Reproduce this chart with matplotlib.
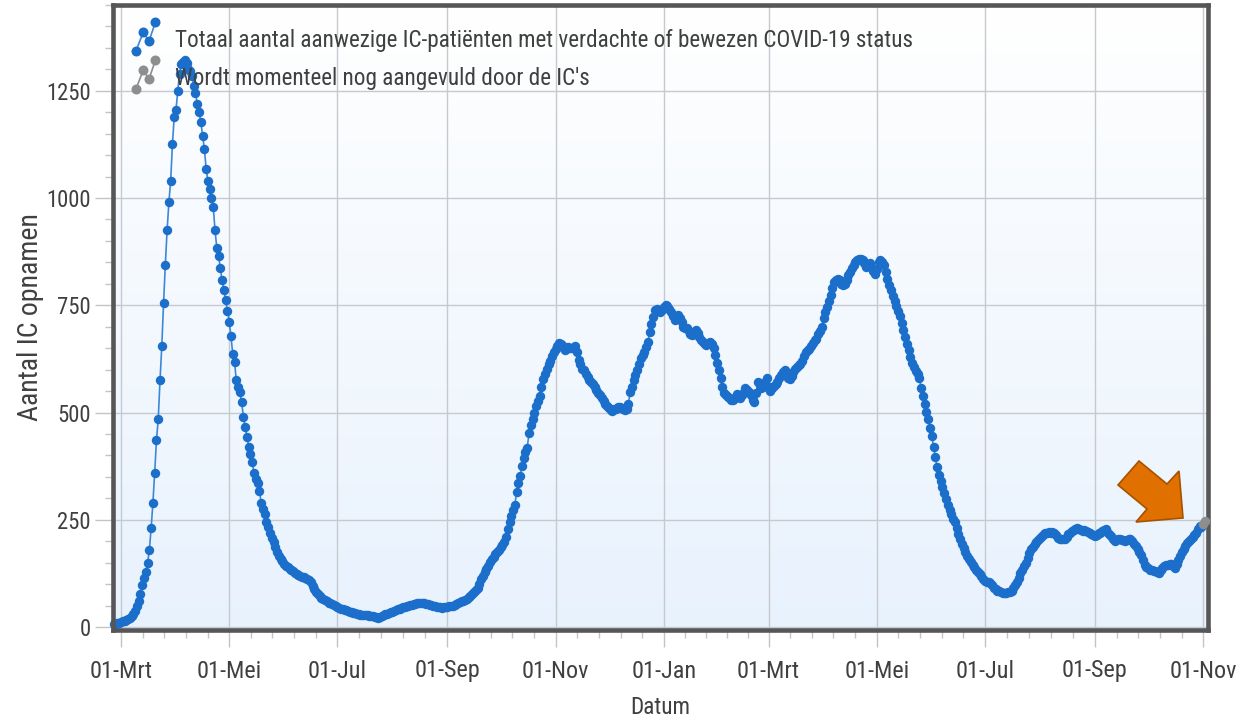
import os
import dataclasses
import numpy as np
import pandas as pd
import matplotlib
matplotlib.use("Agg")
import matplotlib.pyplot as plt
import matplotlib.dates as mdates
from matplotlib import font_manager
from matplotlib.ticker import MultipleLocator, FixedLocator, FuncFormatter
from matplotlib.legend_handler import HandlerBase
from matplotlib.lines import Line2D
from matplotlib.patches import Polygon
from matplotlib.colors import LinearSegmentedColormap

# ---------------- data (daily IC occupancy) ----------------
start_date = "2020-02-26"
feb_2020 = [6, 8, 9, 10]
mar_2020 = [11, 13, 14, 16, 19, 22, 26, 31, 38, 48, 60, 78, 98, 115, 128, 150, 180, 230, 290, 360,
            435, 485, 575, 655, 755, 845, 925, 990, 1040, 1125, 1190]
apr_2020 = [1205, 1250, 1290, 1312, 1318, 1322, 1315, 1300, 1297, 1285, 1262, 1245, 1220, 1200, 1178,
            1145, 1115, 1068, 1040, 1020, 1000, 980, 925, 884, 866, 836, 808, 785, 762, 736]
may_2020 = [712, 678, 636, 618, 575, 560, 547, 524, 490, 466, 444, 420, 403, 385, 358, 345, 336, 318,
            290, 275, 264, 245, 232, 220, 208, 197, 186, 175, 166, 158, 154]
jun_2020 = [148, 143, 140, 136, 132, 130, 126, 124, 121, 120, 117, 116, 114, 112, 110, 104, 96, 88, 81,
            76, 72, 68, 65, 62, 60, 57, 55, 53, 51, 49]
jul_2020 = [46, 45, 43, 42, 40, 39, 37, 36, 34, 33, 32, 31, 30, 29, 28, 28, 27, 27, 26, 26, 25, 24, 23,
            22, 24, 26, 28, 30, 31, 33, 34]
aug_2020 = [36, 38, 40, 41, 43, 44, 46, 47, 48, 50, 51, 52, 53, 54, 55, 56, 56, 56, 55, 54, 53, 52, 51,
            49, 48, 47, 46, 46, 45, 46, 46]
sep_2020 = [47, 48, 49, 50, 52, 54, 56, 58, 60, 61, 63, 66, 70, 73, 77, 82, 86, 90, 100, 112, 120, 128,
            136, 143, 151, 158, 164, 170, 175, 180]
oct_2020 = [186, 192, 197, 210, 228, 245, 259, 272, 285, 314, 335, 352, 375, 395, 408, 418, 453, 470,
            484, 500, 515, 527, 539, 560, 578, 590, 601, 612, 620, 632, 640]
nov_2020 = [648, 655, 662, 660, 656, 645, 648, 652, 650, 651, 650, 655, 640, 622, 612, 602, 598, 590,
            582, 575, 570, 566, 560, 552, 546, 540, 533, 526, 520, 515]
dec_2020 = [510, 505, 503, 508, 509, 512, 513, 510, 508, 506, 509, 520, 548, 560, 575, 587, 600, 614,
            626, 635, 641, 652, 665, 688, 707, 722, 738, 742, 738, 735, 740]
jan_2021 = [745, 750, 748, 742, 734, 725, 715, 720, 727, 720, 710, 700, 698, 696, 690, 684, 680, 686,
            692, 685, 675, 668, 664, 660, 657, 662, 665, 660, 650, 634, 615]
feb_2021 = [600, 580, 560, 545, 540, 537, 533, 530, 529, 535, 544, 538, 533, 540, 548, 556, 552, 548,
            540, 530, 525, 545, 571, 565, 556, 560, 570, 580]
mar_2021 = [560, 550, 556, 562, 566, 570, 580, 588, 594, 600, 590, 580, 578, 585, 595, 602, 605, 610,
            613, 620, 632, 641, 645, 648, 655, 662, 668, 672, 682, 690, 699]
apr_2021 = [720, 735, 746, 760, 773, 790, 805, 810, 812, 808, 800, 797, 800, 810, 820, 828, 836, 844,
            850, 855, 858, 859, 855, 848, 840, 845, 848, 840, 830, 824]
may_2021 = [835, 850, 855, 850, 844, 828, 812, 798, 785, 772, 760, 748, 736, 724, 708, 692, 676, 660,
            645, 630, 616, 605, 597, 590, 580, 558, 538, 520, 502, 484, 465]
jun_2021 = [445, 420, 396, 372, 354, 340, 327, 312, 298, 285, 272, 263, 252, 245, 231, 217, 206, 193,
            184, 175, 165, 158, 152, 145, 140, 134, 128, 124, 118, 112]
jul_2021 = [108, 106, 104, 102, 98, 92, 88, 85, 83, 81, 80, 79, 80, 81, 82, 84, 90, 98, 105, 115, 126,
            134, 142, 150, 162, 172, 181, 187, 193, 197, 203]
aug_2021 = [208, 212, 216, 218, 220, 221, 220, 221, 220, 215, 208, 205, 204, 205, 206, 210, 216, 220,
            224, 227, 229, 230, 228, 226, 224, 225, 223, 221, 220, 217, 214]
sep_2021 = [212, 215, 218, 220, 224, 227, 228, 222, 216, 212, 206, 201, 202, 204, 205, 203, 202, 201,
            203, 205, 205, 200, 194, 189, 182, 175, 169, 156, 145, 140]
oct_2021 = [137, 134, 132, 131, 130, 128, 126, 132, 138, 142, 144, 145, 146, 146, 142, 138, 148, 157,
            165, 174, 182, 189, 195, 200, 205, 210, 215, 220, 228, 236, 232]

pending_dates = ["2021-11-01", "2021-11-02"]
pending_values = [240, 246]

ic_values = (feb_2020 + mar_2020 + apr_2020 + may_2020 + jun_2020 + jul_2020 + aug_2020 + sep_2020 +
             oct_2020 + nov_2020 + dec_2020 + jan_2021 + feb_2021 + mar_2021 + apr_2021 + may_2021 +
             jun_2021 + jul_2021 + aug_2021 + sep_2021 + oct_2021)
ic_dates = pd.date_range(start_date, periods=len(ic_values), freq="D")
pend_dates = pd.to_datetime(pending_dates)

month_abbr = ["Jan", "Feb", "Mrt", "Apr", "Mei", "Jun", "Jul", "Aug", "Sep", "Okt", "Nov", "Dec"]
y_ticks = [0, 250, 500, 750, 1000, 1250]

legend_labels = ["Totaal aantal aanwezige IC-patiënten met verdachte of bewezen COVID-19 status",
                 "Wordt momenteel nog aangevuld door de IC's"]


# ---------------- fonts: look for an installed condensed sans ----------------
def _is_regular(fe):
    w = fe.weight
    if isinstance(w, str):
        return w.lower() in ("normal", "regular", "book", "400")
    return 380 <= w <= 420


def pick_condensed():
    prefs = ["Roboto Condensed", "Noto Sans", "Open Sans", "Liberation Sans Narrow", "DejaVu Sans"]
    best, best_rank = None, None
    for fe in font_manager.fontManager.ttflist:
        base = os.path.basename(fe.fname).lower()
        cond = ("condensed" in base or "narrow" in base or fe.stretch == "condensed"
                or "Condensed" in fe.name or "Narrow" in fe.name)
        if not cond or "semi" in base or "extra" in base or "ultra" in base:
            continue
        if fe.style != "normal" or not _is_regular(fe):
            continue
        if any(k in base for k in ("bold", "light", "thin", "black", "italic", "medium")):
            continue
        root = fe.name.replace(" Condensed", "").replace(" Narrow", "")
        rank = None
        for i, p in enumerate(prefs):
            if fe.name == p or root == p.replace(" Condensed", "").replace(" Narrow", ""):
                rank = i
                break
        if rank is None:
            rank = len(prefs)
        if best is None or rank < best_rank:
            best, best_rank = fe, rank
    return best


cond_entry = pick_condensed()
if cond_entry is not None:
    font_manager.fontManager.ttflist.append(
        dataclasses.replace(cond_entry, name="ChartCondensed", stretch="normal"))
    MAIN_FONT = "ChartCondensed"
else:
    names = {f.name for f in font_manager.fontManager.ttflist}
    MAIN_FONT = "Liberation Sans" if "Liberation Sans" in names else "DejaVu Sans"
plt.rcParams["font.family"] = [MAIN_FONT, "DejaVu Sans"]

BLUE = "#1b6fcb"
LINE_BLUE = "#3b88da"
GREY = "#8e8e8e"
TEXT = "#404040"

W, H = 1255, 718
fig = plt.figure(figsize=(W / 100, H / 100), dpi=100)
fig.patch.set_facecolor("white")
fig.canvas.draw()
R = fig.canvas.get_renderer()


def fit_size(text, target_px):
    t = fig.text(0, 0, text, fontsize=20)
    w = t.get_window_extent(R).width
    t.remove()
    return 20.0 * target_px / w


fs_legend = fit_size(legend_labels[0], 738)
fs_xtick = fit_size("01-Mei", 65)
fs_ytick = fit_size("1000", 45)
fs_xlabel = fit_size("Datum", 60)
fs_ylabel = fit_size("Aantal IC opnamen", 208)

left, right, bottom, top = 113 / W, 1208 / W, 1 - 630 / H, 1 - 5 / H
AX_W, AX_H = (right - left) * W, (top - bottom) * H

# gradient background axes
bg = fig.add_axes([left, bottom, right - left, top - bottom], zorder=0)
cmap = LinearSegmentedColormap.from_list("bgfade", ["#e8f2fd", "#ffffff"])
bg.imshow(np.linspace(0, 1, 256).reshape(-1, 1), cmap=cmap, aspect="auto",
          extent=[0, 1, 0, 1], origin="lower")
bg.set_axis_off()

ax = fig.add_axes([left, bottom, right - left, top - bottom], zorder=1)
ax.set_facecolor("none")

MS = 6.8
ax.plot(ic_dates, ic_values, color=LINE_BLUE, lw=1.2, marker="o", ms=MS,
        mfc=BLUE, mec=BLUE, mew=0, zorder=3, clip_on=False)
ax.plot([ic_dates[-1]] + list(pend_dates), [ic_values[-1]] + pending_values,
        color=GREY, lw=1.2, zorder=4, clip_on=False)
ax.plot(pend_dates, pending_values, color=GREY, lw=0, marker="o", ms=MS,
        mew=0, zorder=6, clip_on=False)

x0 = pd.Timestamp("2020-03-01")
ax.set_xlim(x0 - pd.Timedelta(days=4.5), x0 + pd.Timedelta(days=612.7))
ax.set_ylim(-7, 1450)

major_dates = pd.date_range("2020-03-01", "2021-11-01", freq="2MS")
ax.xaxis.set_major_locator(FixedLocator(mdates.date2num(major_dates)))
ax.xaxis.set_major_formatter(FuncFormatter(
    lambda v, p: "01-" + month_abbr[mdates.num2date(v).month - 1]))
mnum = mdates.date2num(major_dates)
minor = []
for a, b in zip(mnum[:-1], mnum[1:]):
    minor.extend(np.linspace(a, b, 6)[1:-1])
ax.xaxis.set_minor_locator(FixedLocator(minor))

ax.yaxis.set_major_locator(FixedLocator(y_ticks))
ax.yaxis.set_minor_locator(MultipleLocator(50))

ax.grid(True, which="major", color="#c6c9ce", lw=1.0)
ax.set_axisbelow(True)

for s in ax.spines.values():
    s.set_color("#565656")
    s.set_linewidth(3.3)
    s.set_zorder(5)

xpad, ypad = 10.0, 5.0
ax.tick_params(axis="both", which="both", color="#c4c4c4", width=1.0, direction="out",
               labelcolor=TEXT)
ax.tick_params(axis="x", which="major", length=12, pad=xpad, labelsize=fs_xtick)
ax.tick_params(axis="x", which="minor", length=6)
ax.tick_params(axis="y", which="major", length=13, pad=ypad, labelsize=fs_ytick)
ax.tick_params(axis="y", which="minor", length=6)

ax.set_xlabel("Datum", fontsize=fs_xlabel, color=TEXT)
ax.set_ylabel("Aantal IC opnamen", fontsize=fs_ylabel, color=TEXT)
ax.xaxis.set_label_coords(0.5, -0.11)
ax.yaxis.set_label_coords(-0.07, 0.5)


class ZigZagHandler(HandlerBase):
    def create_artists(self, legend, orig_handle, xdescent, ydescent, width, height,
                       fontsize, trans):
        fx = np.array([0.18, 0.44, 0.64, 0.87])
        fy = np.array([-0.2, 0.95, 0.38, 1.55])
        xs = -xdescent + fx * width
        ys = -ydescent + fy * height
        ln = Line2D(xs, ys, color=orig_handle.get_color(), lw=1.2, marker="o",
                    ms=orig_handle.get_markersize(), mfc=orig_handle.get_markerfacecolor(),
                    mec=orig_handle.get_markerfacecolor(), mew=0)
        ln.set_transform(trans)
        return [ln]


h1 = Line2D([], [], color=LINE_BLUE, marker="o", ms=7.2, mfc=BLUE)
h2 = Line2D([], [], color=GREY, marker="o", ms=7.2, mfc=GREY)
fs_px = fs_legend * 100 / 72


def make_legend(anchor, spacing, textpad):
    lg = ax.legend([h1, h2], legend_labels, loc="upper left", bbox_to_anchor=anchor,
                   frameon=False, fontsize=fs_legend, handlelength=28 / fs_px,
                   handletextpad=textpad, labelspacing=spacing, borderaxespad=0, borderpad=0,
                   handler_map={Line2D: ZigZagHandler()})
    for t in lg.get_texts():
        t.set_color(TEXT)
    lg.set_zorder(7)
    return lg


def img_box(a):
    b = a.get_window_extent(R)
    return b.x0, H - b.y1, b.x1, H - b.y0


anchor = [(131 - 113) / AX_W, 1 - (41 - 0.55 * fs_px - 5) / AX_H]
spacing, textpad = 0.6, 16 / fs_px
leg = make_legend(tuple(anchor), spacing, textpad)
fig.canvas.draw()
b1, b2 = img_box(leg.get_texts()[0]), img_box(leg.get_texts()[1])
pitch = (b2[1] + b2[3]) / 2 - (b1[1] + b1[3]) / 2
spacing += (38 - pitch) / fs_px
textpad += (175 - b1[0]) / fs_px
leg.remove()
leg = make_legend(tuple(anchor), spacing, textpad)
fig.canvas.draw()
b1 = img_box(leg.get_texts()[0])
anchor[1] += ((b1[1] + b1[3]) / 2 - 41) / AX_H
leg.remove()
leg = make_legend(tuple(anchor), spacing, textpad)

# align tick labels / axis labels with the reference positions
fig.canvas.draw()
xl = [l for l in ax.get_xticklabels() if l.get_text()][0]
bx = img_box(xl)
ax.tick_params(axis="x", which="major", pad=xpad + (671 - (bx[1] + bx[3]) / 2) * 0.72)
yl = [l for l in ax.get_yticklabels() if l.get_text() == "1000"][0]
by = img_box(yl)
ax.tick_params(axis="y", which="major", pad=max(0.5, ypad + (by[2] - 91) * 0.72))
bxl = img_box(ax.xaxis.label)
ax.xaxis.set_label_coords(0.5, -0.11 - (707 - (bxl[1] + bxl[3]) / 2) / AX_H)
byl = img_box(ax.yaxis.label)
ax.yaxis.set_label_coords(-0.07 + (31 - (byl[0] + byl[2]) / 2) / AX_W,
                          0.5 + ((byl[1] + byl[3]) / 2 - 317) / AX_H)

# orange arrow annotation (figure pixel outline)
arrow_px = [(1183, 518), (1179, 471), (1167, 484), (1139, 461), (1118, 485), (1147, 509), (1136, 522)]
arrow_fig = [(x / W, 1 - y / H) for x, y in arrow_px]
fig.patches.append(Polygon(arrow_fig, closed=True, transform=fig.transFigure,
                           facecolor="#e07000", edgecolor="#a65200", lw=1.2, zorder=10))

fig.savefig("out.png", dpi=100)
